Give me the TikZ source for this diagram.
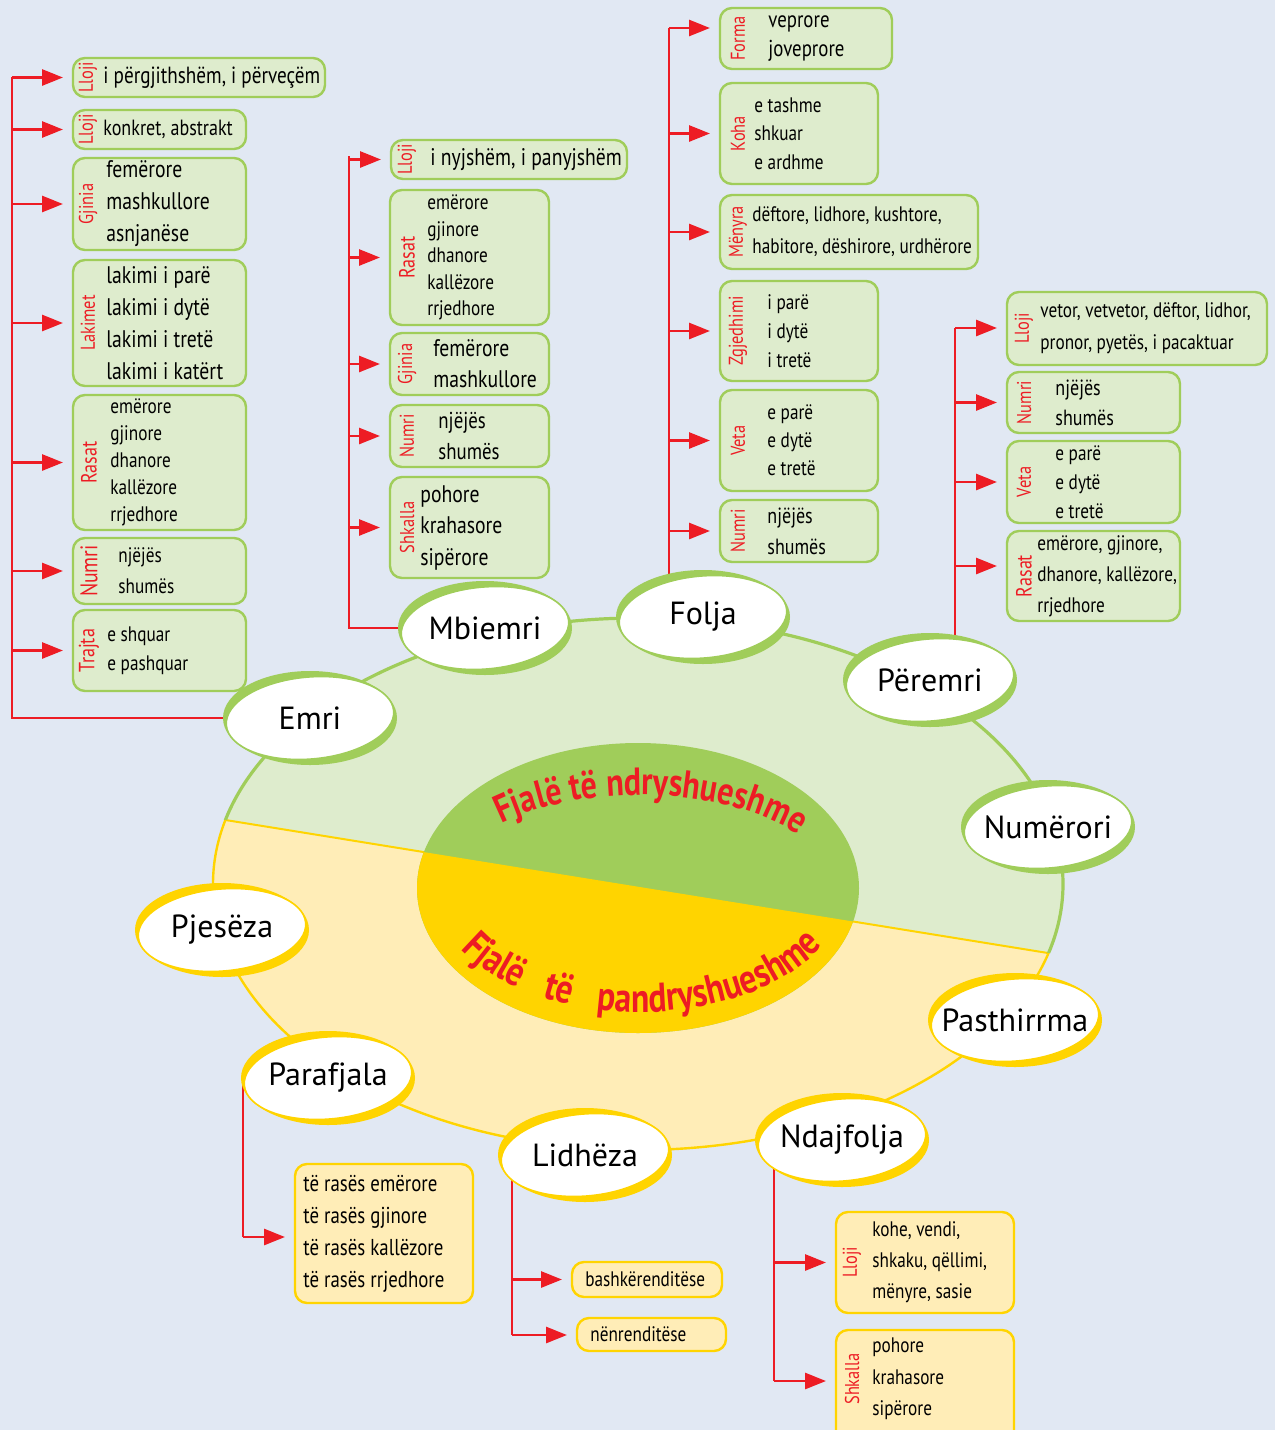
\documentclass[tikz,border=0pt]{standalone}
\usepackage{fontspec}
\setmainfont{PT Sans}
\newfontfamily\cnd[FakeStretch=0.82]{PT Sans}
\usetikzlibrary{shapes.geometric,arrows.meta,decorations.text,calc}
\definecolor{bg}{RGB}{225,232,243}
\definecolor{lgreen}{RGB}{222,236,205}
\definecolor{dgreen}{RGB}{160,205,90}
\definecolor{lyel}{RGB}{255,237,183}
\definecolor{yel}{RGB}{255,212,0}
\definecolor{myred}{RGB}{237,28,36}
\pgfdeclarelayer{back}
\pgfdeclarelayer{conn}
\pgfsetlayers{back,conn,main}
\newcommand\tf[2]{\cnd\fontsize{#1}{#2}\selectfont}
\newcommand\tbold{\cnd\bfseries\fontsize{19.5}{20}\selectfont}
\newcommand\tboldb{\cnd\bfseries\fontsize{20.5}{21}\selectfont}
\tikzset{
 gbox/.style={draw=dgreen, fill=lgreen, line width=1.2pt, rounded corners=6pt, inner sep=0pt, outer sep=0pt},
 ybox/.style={draw=yel, fill=lyel, line width=1.2pt, rounded corners=6pt, inner sep=0pt, outer sep=0pt},
 lab/.style={text=myred, rotate=90, inner sep=0pt, font=\tf{10}{11}},
 txt/.style={anchor=west, align=left, inner sep=0pt, font=\tf{11}{15}},
 rline/.style={color=myred, line width=1.4pt},
 arr/.style={rline, -{Triangle[length=10.5pt,width=8pt,fill=myred]}, shorten >=5pt},
}
\newcommand\bx[6]{\node[#2, minimum width={(#5-#3)*0.5pt}, minimum height={(#6-#4)*0.5pt}] (#1) at ({(#3+#5)/2},{(#4+#6)/2}) {};}
\newcommand\bub[5]{%
 \node[ellipse, fill=#4, minimum width=87pt, minimum height=47pt, inner sep=0pt, outer sep=0pt] (#1) at (#2,#3) {};
 \node[ellipse, fill=white, draw=#4, line width=0.8pt, minimum width=84pt, minimum height=41pt, rotate=5, inner sep=0pt] at (#2,#3) {};
 \node[font=\fontsize{16}{18}\selectfont, inner sep=0pt] at (#2,#3) {#5};}
\begin{document}
\begin{tikzpicture}[x=0.5pt,y=-0.5pt]
\useasboundingbox (0,0) rectangle (1275,1430);
\begin{pgfonlayer}{back}
\fill[bg] (0,0) rectangle (1275,1430);
\begin{scope}
\clip (638,884) ellipse [x radius=425, y radius=266];
\fill[lgreen] (200,600) rectangle (1080,1160);
\fill[lyel] (100,799.7) -- (1200,977.6) -- (1200,1200) -- (100,1200) -- cycle;
\draw[yel, line width=1pt] (100,799.7) -- (1200,977.6);
\fill[dgreen] (638,888) ellipse [x radius=221, y radius=145];
\clip (638,888) ellipse [x radius=221, y radius=145];
\fill[yel] (100,799.7) -- (1200,977.6) -- (1200,1200) -- (100,1200) -- cycle;
\end{scope}
\begin{scope}
\clip (0,0) -- (100,799.7) -- (1200,977.6) -- (1275,0) -- cycle;
\draw[dgreen, line width=1.6pt] (638,884) ellipse [x radius=425, y radius=266];
\end{scope}
\begin{scope}
\clip (100,799.7) -- (1200,977.6) -- (1275,1430) -- (0,1430) -- cycle;
\draw[yel, line width=1.2pt] (638,884) ellipse [x radius=425, y radius=266];
\end{scope}
\end{pgfonlayer}
% curved titles
\path[decorate, decoration={text along path, text={|\tbold|Fjalë të ndryshueshme}, text align=center, text color=myred}]
 (640,890) ++(216:195 and 95) arc[start angle=216, end angle=334, x radius=195, y radius=95];
\path[decorate, decoration={text along path, text={|\tboldb|Fjalë të pandryshueshme}, text align={fit to path stretching spaces}, text color=myred}]
 (640,890) ++(151:205 and 122) arc[start angle=151, end angle=27, x radius=205, y radius=122];
% bubbles
\bub{emri}{310}{718}{dgreen}{Emri}
\bub{mbiemri}{485}{628}{dgreen}{Mbiemri}
\bub{folja}{703}{617}{dgreen}{Folja}
\bub{peremri}{930}{680}{dgreen}{Përemri}
\bub{numerori}{1048}{827}{dgreen}{Numërori}
\bub{pjeseza}{222}{930}{yel}{Pjesëza}
\bub{pasthirrma}{1015}{1020}{yel}{Pasthirrma}
\bub{parafjala}{328}{1078}{yel}{Parafjala}
\bub{lidheza}{585}{1155}{yel}{Lidhëza}
\bub{ndajfolja}{842}{1140}{yel}{Ndajfolja}
% ---- Emri boxes
\bx{E1}{gbox}{73}{58}{325}{97}
\node[lab] at ([xshift=7.5pt]E1.west) {Lloji};
\node[txt,font=\tf{11.7}{16}] at ([xshift=15pt]E1.west) {i përgjithshëm, i përveçëm};
\bx{E2}{gbox}{73}{110}{246}{149}
\node[lab] at ([xshift=7.5pt]E2.west) {Lloji};
\node[txt,font=\tf{11}{15}] at ([xshift=15pt]E2.west) {konkret, abstrakt};
\bx{E3}{gbox}{73}{158}{246}{250}
\node[lab] at ([xshift=7.5pt]E3.west) {Gjinia};
\node[txt,font=\tf{12}{16}] at ([xshift=16.5pt]E3.west) {femërore\\mashkullore\\asnjanëse};
\bx{E4}{gbox}{73}{260}{246}{386}
\node[lab] at ([xshift=7.5pt]E4.west) {Lakimet};
\node[txt,font=\tf{12}{16}] at ([xshift=16.5pt]E4.west) {lakimi i parë\\lakimi i dytë\\lakimi i tretë\\lakimi i katërt};
\bx{E5}{gbox}{73}{395}{246}{530}
\node[lab,font=\tf{11}{12}] at ([xshift=8pt]E5.west) {Rasat};
\node[txt,font=\tf{10.5}{13.5}] at ([xshift=18.5pt]E5.west) {emërore\\gjinore\\dhanore\\kallëzore\\rrjedhore};
\bx{E6}{gbox}{73}{538}{246}{604}
\node[lab,font=\tf{12}{13}] at ([xshift=8pt]E6.west) {Numri};
\node[txt,font=\tf{10.5}{15.5}] at ([xshift=22.5pt]E6.west) {njëjës\\shumës};
\bx{E7}{gbox}{73}{610}{246}{691}
\node[lab,font=\tf{11}{12}] at ([xshift=8pt]E7.west) {Trajta};
\node[txt,font=\tf{10.5}{14.5}] at ([xshift=17pt]E7.west) {e shquar\\e pashquar};
% ---- Mbiemri boxes
\bx{M1}{gbox}{391}{140}{627}{179}
\node[lab] at ([xshift=8pt]M1.west) {Lloji};
\node[txt,font=\tf{12}{16}] at ([xshift=19.5pt]M1.west) {i nyjshëm, i panyjshëm};
\bx{M2}{gbox}{390}{190}{549}{325}
\node[lab,font=\tf{11}{12}] at ([xshift=8.5pt]M2.west) {Rasat};
\node[txt,font=\tf{10.5}{13.3}] at ([xshift=18.5pt]M2.west) {emërore\\gjinore\\dhanore\\kallëzore\\rrjedhore};
\bx{M3}{gbox}{390}{333}{549}{395}
\node[lab] at ([xshift=8.5pt]M3.west) {Gjinia};
\node[txt,font=\tf{12}{15.5}] at ([xshift=21.5pt]M3.west) {femërore\\mashkullore};
\bx{M4}{gbox}{390}{405}{549}{467}
\node[lab] at ([xshift=8.5pt]M4.west) {Numri};
\node[txt,font=\tf{11.5}{15.5}] at ([xshift=24pt]M4.west) {njëjës\\shumës};
\bx{M5}{gbox}{390}{477}{549}{578}
\node[lab] at ([xshift=8.5pt]M5.west) {Shkalla};
\node[txt,font=\tf{12}{15.75}] at ([xshift=15pt]M5.west) {pohore\\krahasore\\sipërore};
% ---- Folja boxes
\bx{F1}{gbox}{720}{8}{892}{69}
\node[lab] at ([xshift=9pt]F1.west) {Forma};
\node[txt,font=\tf{11.5}{14.5}] at ([xshift=24pt]F1.west) {veprore\\joveprore};
\bx{F2}{gbox}{720}{83}{878}{184}
\node[lab] at ([xshift=9pt]F2.west) {Koha};
\node[txt,font=\tf{10.5}{14.25}] at ([xshift=17pt]F2.west) {e tashme\\shkuar\\e ardhme};
\bx{F3}{gbox}{720}{195}{978}{269}
\node[lab] at ([xshift=9pt]F3.west) {Mënyra};
\node[txt,font=\tf{10.5}{16}] at ([xshift=16pt]F3.west) {dëftore, lidhore, kushtore,\\habitore, dëshirore, urdhërore};
\bx{F4}{gbox}{720}{281}{878}{381}
\node[lab] at ([xshift=9pt]F4.west) {Zgjedhimi};
\node[txt,font=\tf{10.5}{14.5}] at ([xshift=23.5pt]F4.west) {i parë\\i dytë\\i tretë};
\bx{F5}{gbox}{720}{390}{878}{491}
\node[lab] at ([xshift=9pt]F5.west) {Veta};
\node[txt,font=\tf{10.5}{14}] at ([xshift=23.5pt]F5.west) {e parë\\e dytë\\e tretë};
\bx{F6}{gbox}{720}{500}{878}{562}
\node[lab] at ([xshift=9pt]F6.west) {Numri};
\node[txt,font=\tf{11}{15.5}] at ([xshift=23.5pt]F6.west) {njëjës\\shumës};
% ---- Peremri boxes
\bx{P1}{gbox}{1007}{292}{1267}{365}
\node[lab] at ([xshift=8.5pt]P1.west) {Lloji};
\node[txt,font=\tf{10.5}{16}] at ([xshift=16.5pt]P1.west) {vetor, vetvetor, dëftor, lidhor,\\pronor, pyetës, i pacaktuar};
\bx{P2}{gbox}{1007}{372}{1180}{433}
\node[lab] at ([xshift=8.5pt]P2.west) {Numri};
\node[txt,font=\tf{11}{15}] at ([xshift=24pt]P2.west) {njëjës\\shumës};
\bx{P3}{gbox}{1007}{441}{1180}{523}
\node[lab] at ([xshift=8.5pt]P3.west) {Veta};
\node[txt,font=\tf{10.5}{14.5}] at ([xshift=24pt]P3.west) {e parë\\e dytë\\e tretë};
\bx{P4}{gbox}{1007}{531}{1180}{621}
\node[lab,font=\tf{11}{12}] at ([xshift=8.5pt]P4.west) {Rasat};
\node[txt,font=\tf{10.5}{15.5}] at ([xshift=15pt]P4.west) {emërore, gjinore,\\dhanore, kallëzore,\\rrjedhore};
% ---- Parafjala, Lidheza, Ndajfolja boxes
\bx{PA1}{ybox}{295}{1164}{473}{1303}
\node[txt,font=\tf{11.5}{16}] at ([xshift=4pt]PA1.west) {të rasës emërore\\të rasës gjinore\\të rasës kallëzore\\të rasës rrjedhore};
\bx{L1}{ybox}{572}{1262}{722}{1297}
\node[txt,font=\tf{10.5}{13}] at ([xshift=6.5pt]L1.west) {bashkërenditëse};
\bx{L2}{ybox}{577}{1318}{726}{1351}
\node[txt,font=\tf{10.5}{13}] at ([xshift=6.5pt]L2.west) {nënrenditëse};
\bx{N1}{ybox}{836}{1212}{1014}{1313}
\node[lab] at ([xshift=8pt]N1.west) {Lloji};
\node[txt,font=\tf{10.5}{15.5}] at ([xshift=18pt]N1.west) {kohe, vendi,\\shkaku, qëllimi,\\mënyre, sasie};
\bx{N2}{ybox}{836}{1330}{1014}{1450}
\coordinate (n2c) at (836,1379);
\node[lab] at ([xshift=8pt]n2c) {Shkalla};
\node[txt,font=\tf{10.5}{15.75}] at ([xshift=18pt]n2c) {pohore\\krahasore\\sipërore};
% ---- connectors
\begin{pgfonlayer}{conn}
\coordinate (ex) at (12,77);
\draw[rline] (emri.west) -| (ex);
\foreach \b in {E1,E2,E3,E4,E5,E6,E7} \draw[arr] (ex |- \b.west) -- (\b.west);
\coordinate (mx) at (349,156);
\draw[rline] (mbiemri.west) -| (mx);
\foreach \b in {M1,M2,M3,M4,M5} \draw[arr] (mx |- \b.west) -- (\b.west);
\coordinate (fx) at (669,28);
\draw[rline] (folja.center -| fx) -- (fx);
\draw[arr] (fx) -- (fx -| F1.west);
\foreach \b in {F2,F3,F4,F5,F6} \draw[arr] (fx |- \b.west) -- (\b.west);
\coordinate (px) at (955,328);
\draw[rline] (peremri.center -| px) -- (px);
\draw[arr] (px) -- (px -| P1.west);
\foreach \b in {P2,P3} \draw[arr] (px |- \b.west) -- (\b.west);
\draw[arr] ($(P4.west)+(-52,-10)$) -- ($(P4.west)+(0,-10)$);
\coordinate (pax) at (243,1237);
\draw[rline] (parafjala.center -| pax) -- (pax);
\draw[arr] (pax) -- (pax -| PA1.west);
\coordinate (lx) at (512,1335);
\draw[rline] (lidheza.center -| lx) -- (lx);
\draw[arr] (lx) -- (lx -| L2.west);
\draw[arr] (lx |- L1.west) -- (L1.west);
\coordinate (nx) at (774,1381);
\draw[rline] (ndajfolja.center -| nx) -- (nx);
\draw[arr] (nx) -- (nx -| N2.west);
\draw[arr] (nx |- N1.west) -- (N1.west);
\end{pgfonlayer}
\end{tikzpicture}
\end{document}
